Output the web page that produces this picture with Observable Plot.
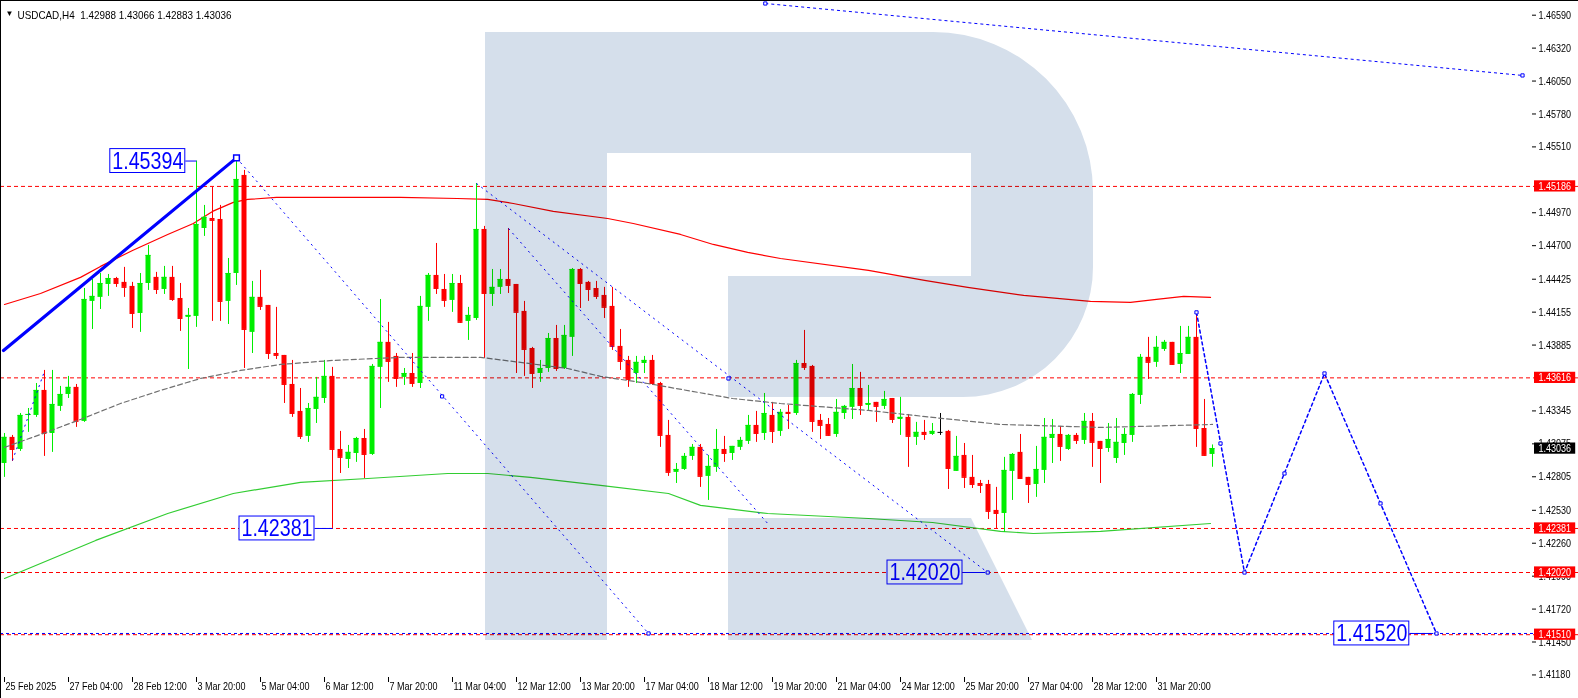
<!DOCTYPE html>
<html><head><meta charset="utf-8">
<script src="https://cdn.jsdelivr.net/npm/d3@7"></script>
<script src="https://cdn.jsdelivr.net/npm/@observablehq/plot@0.6"></script>
<style>
html,body{margin:0;padding:0;background:#fff;}
#chart svg{display:block;}
</style></head><body><div id="chart"></div>
<script>
// ---------- data ----------
const symbolName = "USDCAD,H4";
const opens = [1.42914,1.43128,1.43029,1.43308,1.43308,1.43513,1.43160,1.43382,1.43480,1.43538,
1.43259,1.44243,1.44276,1.44382,1.44431,1.44399,1.44366,1.44144,1.44390,1.44440,
1.44341,1.44440,1.44267,1.44112,1.44120,1.44841,1.44923,1.44915,1.44243,1.44472,
1.45276,1.43989,1.44276,1.44210,1.43816,1.43800,1.43562,1.43341,1.43136,1.43357,
1.43447,1.43628,1.43029,1.42947,1.42996,1.43119,1.42988,1.43702,1.43907,1.43792,
1.43620,1.43652,1.43570,1.44194,1.44456,1.44341,1.44251,1.44390,1.44079,1.44103,
1.44833,1.44300,1.44358,1.44423,1.44382,1.44161,1.43857,1.43652,1.43693,1.43939,
1.43693,1.43948,1.44505,1.44399,1.44349,1.44292,1.44202,1.43874,1.43759,1.43652,
1.43734,1.43759,1.43570,1.43144,1.42841,1.42865,1.42972,1.43046,1.42808,1.42882,
1.43029,1.42996,1.43046,1.43095,1.43226,1.43160,1.43308,1.43177,1.43333,1.43324,
1.43734,1.43710,1.43267,1.43234,1.43152,1.43324,1.43374,1.43529,1.43390,1.43415,
1.43382,1.43447,1.43275,1.43292,1.43128,1.43169,1.43152,1.43169,1.43177,1.42849,
1.42980,1.42800,1.42750,1.42742,1.42529,1.42504,1.42849,1.43005,1.42800,1.42742,
1.42857,1.43119,1.43152,1.43029,1.43144,1.43103,1.43259,1.43095,1.43037,1.42955,
1.43078,1.43144,1.43472,1.43784,1.43743,1.43849,1.43907,1.43726,1.43808,1.43948,
1.43201,1.42988];
const highs = [1.43160,1.43144,1.43324,1.43365,1.43570,1.43677,1.43677,1.43546,1.43628,1.43562,
1.44349,1.44423,1.44472,1.44464,1.44440,1.44522,1.44399,1.44472,1.44702,1.44481,
1.44530,1.44530,1.44390,1.44185,1.45394,1.45030,1.45178,1.45030,1.44595,1.45390,
1.45317,1.44407,1.44497,1.44210,1.44194,1.43800,1.43759,1.43529,1.43406,1.43620,
1.43759,1.43702,1.43177,1.43062,1.43128,1.43193,1.43726,1.44259,1.44071,1.43816,
1.43693,1.43816,1.44284,1.44472,1.44718,1.44464,1.44464,1.44456,1.44194,1.45210,
1.44858,1.44505,1.44505,1.44841,1.44382,1.44243,1.43866,1.43759,1.43980,1.44046,
1.44046,1.44513,1.44513,1.44407,1.44407,1.44358,1.44358,1.44013,1.43792,1.43792,
1.43792,1.43800,1.43579,1.43267,1.42914,1.42996,1.43070,1.43070,1.42980,1.43193,
1.43136,1.43054,1.43128,1.43308,1.43341,1.43488,1.43415,1.43357,1.43390,1.43759,
1.44005,1.43718,1.43316,1.43283,1.43439,1.43390,1.43726,1.43661,1.43554,1.43415,
1.43505,1.43447,1.43456,1.43316,1.43251,1.43267,1.43242,1.43324,1.43185,1.43136,
1.43078,1.42980,1.42775,1.42775,1.42718,1.42964,1.42996,1.43152,1.42800,1.43054,
1.43283,1.43275,1.43218,1.43152,1.43160,1.43324,1.43324,1.43095,1.43242,1.43283,
1.43201,1.43488,1.43808,1.43948,1.43956,1.43923,1.43907,1.44038,1.44038,1.44153,
1.43439,1.43066];
const lows = [1.42800,1.42931,1.43013,1.43169,1.43292,1.42972,1.43005,1.43341,1.43447,1.43210,
1.43251,1.44013,1.44177,1.44284,1.44358,1.44276,1.44021,1.43989,1.44333,1.44300,
1.44300,1.44243,1.43997,1.43685,1.44030,1.44776,1.44079,1.44079,1.44054,1.44374,
1.43693,1.43816,1.44169,1.43767,1.43767,1.43406,1.43292,1.43111,1.43087,1.43242,
1.43406,1.42381,1.42832,1.42873,1.42923,1.42791,1.42980,1.43365,1.43579,1.43538,
1.43554,1.43538,1.43529,1.44079,1.44300,1.44194,1.44153,1.44062,1.43923,1.44087,
1.43775,1.44202,1.44300,1.44308,1.43652,1.43628,1.43529,1.43579,1.43661,1.43669,
1.43685,1.43792,1.44185,1.44243,1.44259,1.44103,1.43841,1.43677,1.43538,1.43570,
1.43652,1.43554,1.43046,1.42808,1.42750,1.42857,1.42939,1.42718,1.42611,1.42841,
1.42923,1.42939,1.43021,1.43070,1.43087,1.43103,1.43078,1.43136,1.43193,1.43308,
1.43677,1.43169,1.43111,1.43136,1.43128,1.43275,1.43275,1.43308,1.43349,1.43251,
1.43357,1.43242,1.43144,1.42882,1.43062,1.43103,1.43144,1.43144,1.42701,1.42849,
1.42709,1.42709,1.42668,1.42455,1.42381,1.42349,1.42611,1.42783,1.42586,1.42636,
1.42750,1.42914,1.42931,1.43021,1.43070,1.43070,1.42882,1.42750,1.43005,1.42914,
1.42980,1.43087,1.43398,1.43603,1.43702,1.43833,1.43718,1.43652,1.43808,1.43046,
1.42972,1.42883];
const closes = [1.43128,1.43029,1.43308,1.43316,1.43513,1.43160,1.43398,1.43480,1.43538,1.43259,
1.44259,1.44284,1.44390,1.44431,1.44390,1.44358,1.44144,1.44390,1.44620,1.44341,
1.44440,1.44259,1.44103,1.44128,1.44874,1.44932,1.44907,1.44243,1.44472,1.45243,
1.44013,1.44276,1.44202,1.43816,1.43800,1.43562,1.43324,1.43136,1.43365,1.43456,
1.43628,1.43029,1.42964,1.43005,1.43119,1.42988,1.43710,1.43907,1.43751,1.43611,
1.43652,1.43570,1.44202,1.44456,1.44349,1.44251,1.44390,1.44071,1.44128,1.44833,
1.44308,1.44358,1.44423,1.44374,1.44153,1.43849,1.43652,1.43693,1.43939,1.43693,
1.43964,1.44505,1.44390,1.44341,1.44284,1.44194,1.43874,1.43751,1.43603,1.43743,
1.43759,1.43570,1.43144,1.42841,1.42865,1.42972,1.43046,1.42808,1.42890,1.43029,
1.42996,1.43054,1.43103,1.43226,1.43160,1.43324,1.43177,1.43333,1.43324,1.43734,
1.43702,1.43259,1.43226,1.43144,1.43333,1.43382,1.43529,1.43390,1.43406,1.43382,
1.43439,1.43275,1.43292,1.43136,1.43169,1.43152,1.43177,1.43169,1.42873,1.42972,
1.42800,1.42742,1.42734,1.42521,1.42504,1.42857,1.42988,1.42791,1.42742,1.42865,
1.43128,1.43152,1.43054,1.43144,1.43103,1.43259,1.43087,1.43037,1.43111,1.43087,
1.43152,1.43480,1.43784,1.43743,1.43866,1.43907,1.43726,1.43816,1.43948,1.43201,
1.42980,1.43036];

// moving averages (bar index, price) read at points along each curve
const maRedIdx = [0,4.5,9.5,12,16,20.4,23.6,26,28.6,30.4,34,49.5,56.6,60.4,63.6,68.6,75.4,78.6,84.5,88.6,92.9,97,108,115,120.4,127.4,135.75,140.75,144,147.4,150.75];
const maRedVal = [1.44218,1.44308,1.44440,1.44530,1.44661,1.44792,1.44882,1.44981,1.45055,1.45079,1.45096,1.45096,1.45087,1.45079,1.45046,1.44981,1.44923,1.44882,1.44792,1.44710,1.44645,1.44595,1.44497,1.44415,1.44358,1.44292,1.44243,1.44235,1.44259,1.44284,1.44276];
const maGrayIdx = [0,4.5,9.5,14.5,19.5,24.5,29.5,34.5,41,49.5,59.5,64.5,70.4,74.5,80.4,91,97,108,116,124.5,137,142,151];
const maGrayVal = [1.43046,1.43152,1.43275,1.43406,1.43513,1.43611,1.43677,1.43726,1.43759,1.43784,1.43784,1.43743,1.43693,1.43628,1.43570,1.43447,1.43406,1.43349,1.43292,1.43234,1.43210,1.43218,1.43234];
const maGreenIdx = [0,11.4,20.4,28.6,37,45.4,55.4,60.4,65.75,74.5,83,87,95.4,108,116,124.5,128.6,137,150.75];
const maGreenVal = [1.41971,1.42283,1.42504,1.42668,1.42759,1.42791,1.42832,1.42832,1.42800,1.42734,1.42668,1.42570,1.42504,1.42463,1.42430,1.42357,1.42340,1.42357,1.42422];

// horizontal levels
const redLevels = [1.45186, 1.43616, 1.42381, 1.42020, 1.41510];
const targetLevel = 1.41520;
const lastPrice = 1.43036;

// analyst drawings
const trendIdx = [-0.125, 29];
const trendVal = [1.43841, 1.45420];
const dotLinks = [
  {i1:29, p1:1.45420, i2:80.5, p2:1.41520},
  {i1:1, p1:1.42939, i2:4.9, p2:1.43652},
  {i1:59, p1:1.45210, i2:122.9, p2:1.42020},
  {i1:63, p1:1.44841, i2:95.4, p2:1.42422}
];
const topLine = {i1:95.1, p1:1.46686, i2:189.75, p2:1.46096};
const projIdx = [149, 155, 165, 179];
const projVal = [1.44153, 1.42020, 1.43652, 1.41520];
const markerIdx = [95.1,189.75,54.7,80.5,90.5,122.9,149,152,155,160,165,172,179];
const markerVal = [1.46686,1.46096,1.43464,1.41520,1.43611,1.42020,1.44153,1.43078,1.42020,1.42832,1.43652,1.42586,1.41520];
const boxTexts = ["1.45394","1.42381","1.42020","1.41520"];
const boxPrices = [1.45394, 1.42381, 1.42020, 1.41520];
const boxRightIdx = [22.6, 38.75, 119.75, 175.6];
const boxAnchorIdx = [24, 41, 122.6, 178.6];

// axes
const yTickLabels = ["1.46590","1.46320","1.46050","1.45780","1.45510","1.44970","1.44700","1.44425","1.44155","1.43885","1.43345","1.43075","1.42805","1.42530","1.42260","1.41990","1.41720","1.41450","1.41180"];
const xLabels = ["25 Feb 2025","27 Feb 04:00","28 Feb 12:00","3 Mar 20:00","5 Mar 04:00","6 Mar 12:00","7 Mar 20:00","11 Mar 04:00","12 Mar 12:00","13 Mar 20:00","17 Mar 04:00","18 Mar 12:00","19 Mar 20:00","21 Mar 04:00","24 Mar 12:00","25 Mar 20:00","27 Mar 04:00","28 Mar 12:00","31 Mar 20:00"];
const barsPerLabel = 8;

// ---------- build ----------
const FONT = "'Liberation Sans',Arial,sans-serif";
const UP = "#00ee00", DN = "#ff0000", FLAT = "#000000", BLUE = "#0000ff";
const candles = opens.map((o,i)=>({i, o, h:highs[i], l:lows[i], c:closes[i],
  col: closes[i] > o ? UP : closes[i] < o ? DN : FLAT}));
const half = 0.3125;
const toPts = (idx, val) => idx.map((i,k)=>({i, p:val[k]}));
const maRed = toPts(maRedIdx, maRedVal);
const maGray = toPts(maGrayIdx, maGrayVal);
const maGreen = toPts(maGreenIdx, maGreenVal);
const trend = toPts(trendIdx, trendVal);
const proj = toPts(projIdx, projVal);
const markers = toPts(markerIdx, markerVal);
const boxes = boxTexts.map((t,k)=>({t, p:boxPrices[k], x2:boxRightIdx[k], a:boxAnchorIdx[k]}));
const boxW = 9.375, boxH = 0.00098;
const axisTags = redLevels.map(p=>({p, bg:"#ff0000"})).concat([{p:lastPrice, bg:"#000000"}]);
const tagH = 0.00046;
const yBottom = 1.41159, yTop = 1.467105;
const xRight = 191;
const last = candles[candles.length-1];
const header = `${symbolName}  ${last.o.toFixed(5)} ${last.h.toFixed(5)} ${last.l.toFixed(5)} ${last.c.toFixed(5)}`;

const chart = Plot.plot({
  width: 1578, height: 698, margin: 0,
  x: {domain: [-0.125, xRight], range: [3, 1532], axis: null},
  y: {domain: [yBottom, yTop], range: [677, 0], axis: null},
  color: {type: "identity"},
  style: {background: "#fff", fontFamily: FONT, fontSize: "11px", overflow: "visible"},
  marks: [
    Plot.ruleY(redLevels, {stroke: "#ff0000", strokeDasharray: "4,3"}),
    Plot.ruleY([targetLevel], {stroke: BLUE, strokeDasharray: "3,3"}),
    Plot.line(maGreen, {x: "i", y: "p", stroke: "#32cd32", strokeWidth: 1.2}),
    Plot.line(maRed, {x: "i", y: "p", stroke: "#ff0000", strokeWidth: 1.2}),
    Plot.ruleX(candles, {x: "i", y1: "l", y2: "h", stroke: "col"}),
    Plot.rect(candles, {x1: d=>d.i-half, x2: d=>d.i+half, y1: "o", y2: "c", fill: "col"}),
    Plot.ruleY(candles, {y: "c", x1: d=>d.i-half, x2: d=>d.i+half, stroke: "col"}),
    Plot.line(maGray, {x: "i", y: "p", stroke: "#707070", strokeDasharray: "5,3", strokeWidth: 1.2}),
    Plot.line(trend, {x: "i", y: "p", stroke: BLUE, strokeWidth: 3.2}),
    Plot.link(dotLinks, {x1: "i1", y1: "p1", x2: "i2", y2: "p2", stroke: BLUE, strokeDasharray: "2,4"}),
    Plot.link([topLine], {x1: "i1", y1: "p1", x2: "i2", y2: "p2", stroke: BLUE, strokeDasharray: "3,3"}),
    Plot.line(proj, {x: "i", y: "p", stroke: BLUE, strokeDasharray: "3,3"}),
    Plot.dot(markers, {x: "i", y: "p", symbol: "square", r: 1.8, stroke: BLUE, fill: "#fff", strokeWidth: 1}),
    Plot.dot([trend[1]], {x: "i", y: "p", symbol: "square", r: 3.2, stroke: BLUE, fill: "#fff", strokeWidth: 1.5}),
    Plot.link(boxes, {x1: "x2", x2: "a", y1: "p", y2: "p", stroke: BLUE}),
    Plot.rect(boxes, {x1: d=>d.x2-boxW, x2: "x2", y1: d=>d.p-boxH, y2: d=>d.p+boxH, fill: "#fff", stroke: BLUE, strokeWidth: 1}),
    Plot.text(boxes, {x: d=>d.x2-boxW/2, y: "p", text: "t", fill: BLUE, fontSize: 24, fontFamily: FONT}),
    Plot.frame({stroke: "#000"}),
    // right axis
    Plot.ruleY(yTickLabels.map(Number), {x1: xRight, x2: xRight+0.5, stroke: "#000"}),
    Plot.text(yTickLabels, {x: xRight, y: d=>+d, text: d=>d, dx: 6, textAnchor: "start", fill: "#000"}),
    Plot.rect(axisTags, {x1: xRight+0.25, x2: xRight+5.4, y1: d=>d.p-tagH, y2: d=>d.p+tagH, fill: "bg"}),
    Plot.text(axisTags, {x: xRight+0.25, dx: 4, y: "p", text: d=>d.p.toFixed(5), fill: "#fff", textAnchor: "start"}),
    // bottom axis
    Plot.ruleX(xLabels.map((d,k)=>k*barsPerLabel), {y1: yBottom, y2: yBottom-0.00041, stroke: "#000"}),
    Plot.text(xLabels, {x: (d,k)=>k*barsPerLabel, y: yBottom, dy: 9, dx: 1, text: d=>d, textAnchor: "start", fill: "#000"}),
    // header
    Plot.text(["\u25BC"], {frameAnchor: "top-left", dx: 5, dy: 10, fontSize: 8, textAnchor: "start", fill: "#000"}),
    Plot.text([header], {frameAnchor: "top-left", dx: 17, dy: 10, fontSize: 11.5, textAnchor: "start", fill: "#000"})
  ]
});

// watermark logo drawn with multiply blending
const ns = "http://www.w3.org/2000/svg";
const logo = document.createElementNS(ns, "path");
logo.setAttribute("d",
  "M485,32 H933 A160,160 0 0 1 1093,192 V267 A130,130 0 0 1 963,397 H728 V276 H971 V153 H607 V640 H485 Z " +
  "M728,518 H971 L1032,640 H728 Z");
logo.setAttribute("fill", "#d5dfeb");
logo.style.mixBlendMode = "multiply";
chart.appendChild(logo);
document.getElementById("chart").appendChild(chart);

// narrow the Arial-metric text to match the condensed terminal font
chart.querySelectorAll("text").forEach(t => {
  const L = t.getComputedTextLength();
  if (L > 0 && t.textContent !== "\u25BC") {
    const f = t.textContent === header ? 0.86 : 0.82;
    t.setAttribute("textLength", (L * f).toFixed(1));
    t.setAttribute("lengthAdjust", "spacingAndGlyphs");
  }
});
</script>
</body></html>
